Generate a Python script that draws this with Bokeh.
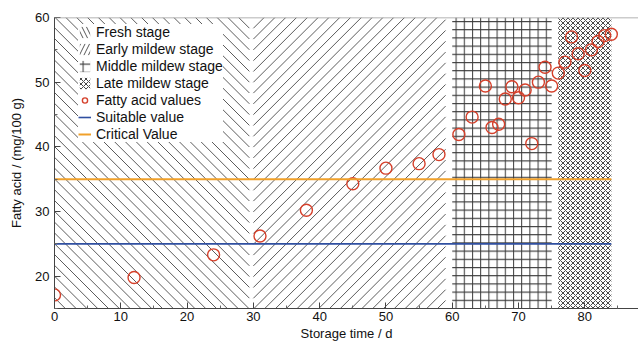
import numpy as np
from bokeh.plotting import figure
from bokeh.embed import file_html
from bokeh.resources import INLINE
from bokeh.models import Span, Range1d, FixedTicker

# --- data ---
days = [0, 12, 24, 31, 38, 45, 50, 55, 58, 61, 63, 65, 66, 67, 68, 69, 70, 71,
        72, 73, 74, 75, 76, 77, 78, 79, 80, 81, 82, 83, 84]
fatty = [17.1, 19.8, 23.3, 26.2, 30.2, 34.3, 36.7, 37.4, 38.8, 41.9, 44.6, 49.4,
         43.0, 43.5, 47.4, 49.3, 47.6, 48.8, 40.5, 50.0, 52.3, 49.4, 51.4, 53.1,
         57.0, 54.4, 51.8, 55.0, 56.3, 57.2, 57.4]
stage_names = ["Fresh stage", "Early mildew stage", "Middle mildew stage", "Late mildew stage"]
stage_start = [0, 30, 60, 76]
stage_end = [29.4, 59, 75, 84]
stage_hatch = ["\\", "/", "+", "x"]
suitable_value = 25
critical_value = 35
y_min, y_max = 15, 60
x_max = 88.1

FONT = "Liberation Sans"
W, H = 638, 343
BL, BT, BB = 54, 17, 35

p = figure(width=W, height=H, output_backend="svg", toolbar_location=None,
           x_range=Range1d(0, x_max), y_range=Range1d(y_min, y_max),
           min_border_left=BL, min_border_top=BT, min_border_right=0,
           min_border_bottom=BB)
p.outline_line_color = None
p.grid.visible = False
p.background_fill_color = "white"

# pixel scale, so that the diagonal hatch is drawn at 45 degrees on screen
kx = (W - BL) / x_max
ky = (H - BT - BB) / (y_max - y_min)
r = kx / ky
span_x = (y_max - y_min) / r


def diag_segments(s, e, spacing_px, down):
    step = spacing_px / kx
    cs = np.arange(s - span_x, e, step)
    xa_c = np.clip(cs, s, e)
    xb_c = np.clip(cs + span_x, s, e)
    if down:   # "\" : from top-left to bottom-right
        ya = y_max - (xa_c - cs) * r
        yb = y_max - (xb_c - cs) * r
    else:      # "/" : from bottom-left to top-right
        ya = y_min + (xa_c - cs) * r
        yb = y_min + (xb_c - cs) * r
    keep = xb_c > xa_c
    return xa_c[keep], ya[keep], xb_c[keep], yb[keep]


for name, s, e, h in zip(stage_names, stage_start, stage_end, stage_hatch):
    if h in ("\\", "/"):
        x0, y0, x1, y1 = diag_segments(s, e, 10.8, h == "\\")
        p.segment(x0, y0, x1, y1, line_color="#4a4a4a", line_width=0.9)
        leg = p.quad(left=[s], right=[e], bottom=[y_min], top=[y_max],
                     fill_color="white", line_color=None, hatch_pattern=h,
                     hatch_scale=9, hatch_weight=0.9, hatch_color="#444444",
                     legend_label=name)
        leg.visible = False
    else:
        sc = 8.2 if h == "+" else 5.0
        col = "#222222" if h == "+" else "#333333"
        p.quad(left=[s], right=[e], bottom=[y_min], top=[y_max],
               fill_color="white", fill_alpha=1.0, line_color=None,
               hatch_pattern=h, hatch_scale=sc, hatch_weight=1.0,
               hatch_color=col, hatch_alpha=0.9, legend_label=name)

p.scatter(days, fatty, marker="circle", size=12, fill_color=None,
          line_color="#d5402b", line_width=1.4, legend_label="Fatty acid values")

lx0, lx1 = min(days), max(days)
p.line([lx0, lx1], [suitable_value, suitable_value], line_color="#2f4fa0",
       line_width=1.6, legend_label="Suitable value")
p.line([lx0, lx1], [critical_value, critical_value], line_color="#f0a02a",
       line_width=2.0, legend_label="Critical Value")

p.add_layout(Span(location=y_max, dimension="width", line_color="#999999", line_width=1.5))

for ax in (p.xaxis[0], p.yaxis[0]):
    ax.major_tick_in = 6
    ax.major_tick_out = 0
    ax.minor_tick_in = 3
    ax.minor_tick_out = 0
    ax.axis_line_color = "#444444"
    ax.major_tick_line_color = "#444444"
    ax.minor_tick_line_color = "#666666"
    ax.major_label_text_font = FONT
    ax.major_label_text_font_size = "13px"
    ax.major_label_text_color = "#111111"
    ax.axis_label_text_font = FONT
    ax.axis_label_text_font_size = "13px"
    ax.axis_label_text_font_style = "normal"
    ax.axis_label_text_color = "#111111"

p.xaxis.ticker = FixedTicker(ticks=[0, 10, 20, 30, 40, 50, 60, 70, 80],
                             minor_ticks=[5, 15, 25, 35, 45, 55, 65, 75, 85])
p.yaxis.ticker = FixedTicker(ticks=[20, 30, 40, 50, 60],
                             minor_ticks=[15, 25, 35, 45, 55])
p.xaxis.axis_label = "Storage time / d"
p.yaxis.axis_label = "Fatty acid / (mg/100 g)"
p.xaxis.major_label_standoff = 3
p.xaxis.axis_label_standoff = 2
p.yaxis.major_label_standoff = 5
p.yaxis.axis_label_standoff = 8

lg = p.legend[0]
lg.location = (24, 166)
lg.background_fill_color = "white"
lg.background_fill_alpha = 1.0
lg.border_line_color = None
lg.label_text_font = FONT
lg.label_text_font_size = "14px"
lg.label_text_color = "#111111"
lg.label_height = 15
lg.glyph_height = 14
lg.glyph_width = 13
lg.spacing = 1
lg.padding = 4
lg.margin = 0
lg.label_standoff = 5

open("out.html", "w").write(file_html(p, INLINE))
